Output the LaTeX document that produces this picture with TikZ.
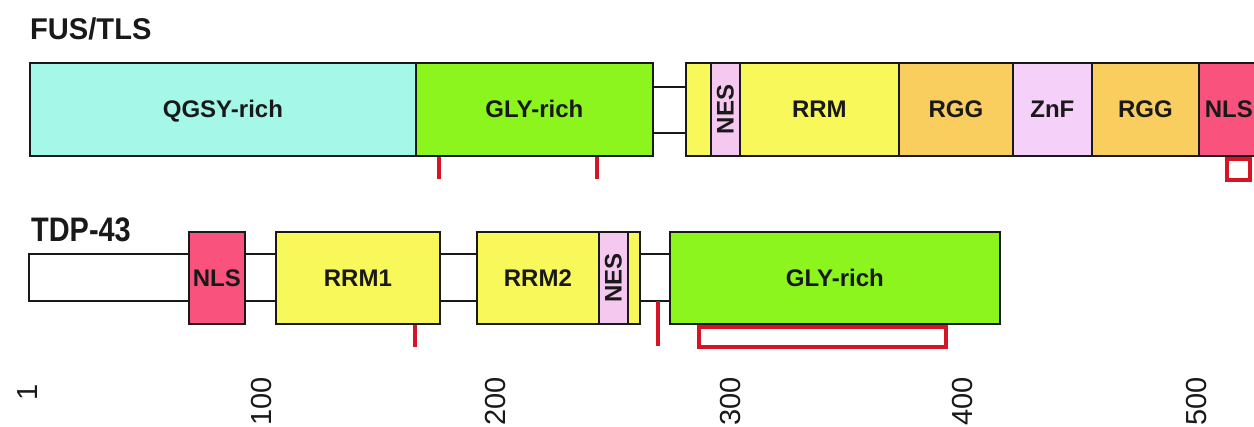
\documentclass[tikz,border=0pt]{standalone}
\usepackage{fontspec}
\setmainfont{Liberation Sans}
\newfontfamily\hdA[FakeStretch=0.97]{Liberation Sans Bold}
\newfontfamily\hdB[FakeStretch=0.85]{Liberation Sans Bold}
\newfontfamily\bxf{Liberation Sans Bold}
\newfontfamily\axf{Liberation Sans}
\definecolor{cq}{RGB}{165,248,232}
\definecolor{cg}{RGB}{140,245,30}
\definecolor{cy}{RGB}{248,248,90}
\definecolor{cn}{RGB}{245,200,240}
\definecolor{co}{RGB}{250,205,95}
\definecolor{cz}{RGB}{245,208,248}
\definecolor{cl}{RGB}{248,82,125}
\definecolor{cr}{RGB}{215,20,35}
\definecolor{txt}{RGB}{25,25,25}
\tikzset{
  frame/.style={draw=black!90, line width=1.8pt, anchor=north west, inner sep=0pt,
    text=txt, font=\bxf\fontsize{24}{24}\selectfont},
  dom/.style={frame, text height=17pt, text depth=0pt},
  rowA/.style={minimum height=93pt},
  rowB/.style={minimum height=92pt},
  link/.style={draw=black!90, line width=1.8pt},
  redl/.style={draw=cr, line width=4pt},
  axl/.style={rotate=90, anchor=east, inner sep=0pt, text=txt, font=\axf\fontsize{29}{29}\selectfont},
}
\begin{document}
\begin{tikzpicture}[x=1pt,y=-1pt]
\clip (0,0) rectangle (1254,427);
\fill[white] (0,0) rectangle (1254,427);
% headings
\node[anchor=base west, inner sep=0pt, text=txt, font=\hdA\fontsize{30}{30}\selectfont] (fus) at (30,40) {FUS/TLS};
\node[anchor=base west, inner sep=0pt, text=txt, font=\hdB\fontsize{34}{34}\selectfont] (tdp) at (31,242) {TDP-43};
% FUS/TLS
\node[dom, rowA, fill=cq, minimum width=386pt] (q) at (29,62) {QGSY-rich};
\node[dom, rowA, fill=cg, minimum width=237pt] (g1) at (415,62) {GLY-rich};
\node[dom, rowA, fill=cy, minimum width=25pt] (y1) at (685,62) {};
\node[frame, rowA, fill=cn, minimum width=29pt] (nes1) at (710,62) {\rotatebox{90}{NES}};
\node[dom, rowA, fill=cy, minimum width=159pt] (rrm) at (739,62) {RRM};
\node[dom, rowA, fill=co, minimum width=114pt] (rgg1) at (898,62) {RGG};
\node[dom, rowA, fill=cz, minimum width=79pt] (znf) at (1012,62) {ZnF};
\node[dom, rowA, fill=co, minimum width=107pt] (rgg2) at (1091,62) {RGG};
\node[dom, rowA, fill=cl, minimum width=60pt, text width=54pt, align=center] (nls1) at (1198,62) {NLS};
\draw[link] ([yshift=22.5pt]g1.east) -- ([yshift=22.5pt]y1.west);
\draw[link] ([yshift=-23.5pt]g1.east) -- ([yshift=-23.5pt]y1.west);
\draw[redl] ([xshift=24pt]g1.south west) -- ++(0,22);
\draw[redl] ([xshift=182pt]g1.south west) -- ++(0,22);
\draw[redl] ([xshift=29pt,yshift=-2pt]nls1.south west) rectangle ++(23,21);
% TDP-43
\node[frame, fill=white, minimum width=160pt, minimum height=47pt] (strip) at (28,253) {};
\node[dom, rowB, fill=cl, minimum width=56pt] (nls2) at (188,231) {NLS};
\node[dom, rowB, fill=cy, minimum width=164pt] (rrm1) at (275,231) {RRM1};
\node[dom, rowB, fill=cy, minimum width=122pt] (rrm2) at (476,231) {RRM2};
\node[frame, rowB, fill=cn, minimum width=29pt] (nes2) at (598,231) {\rotatebox{90}{NES}};
\node[dom, rowB, fill=cy, minimum width=12pt] (y2) at (627,231) {};
\node[dom, rowB, fill=cg, minimum width=330pt] (g2) at (669,231) {GLY-rich};
\draw[link] ([yshift=24pt]nls2.east) -- ([yshift=24pt]rrm1.west);
\draw[link] ([yshift=-23pt]nls2.east) -- ([yshift=-23pt]rrm1.west);
\draw[link] ([yshift=24pt]rrm1.east) -- ([yshift=24pt]rrm2.west);
\draw[link] ([yshift=-23pt]rrm1.east) -- ([yshift=-23pt]rrm2.west);
\draw[link] ([yshift=24pt]y2.east) -- ([yshift=24pt]g2.west);
\draw[link] ([yshift=-23pt]y2.east) -- ([yshift=-23pt]g2.west);
\draw[redl] ([xshift=140pt]rrm1.south west) -- ++(0,22);
\draw[redl] ([xshift=17pt,yshift=-23pt]y2.east) -- ++(0,45);
\draw[redl] ([xshift=30pt,yshift=-2pt]g2.south west) rectangle ++(247,20);
% axis labels
\node[axl] (a1) at (28,384) {1};
\node[axl] (a100) at (262,377) {100};
\node[axl] (a200) at (496,377) {200};
\node[axl] (a300) at (731,377) {300};
\node[axl] (a400) at (963,377) {400};
\node[axl] (a500) at (1197,377) {500};
\end{tikzpicture}
\end{document}
